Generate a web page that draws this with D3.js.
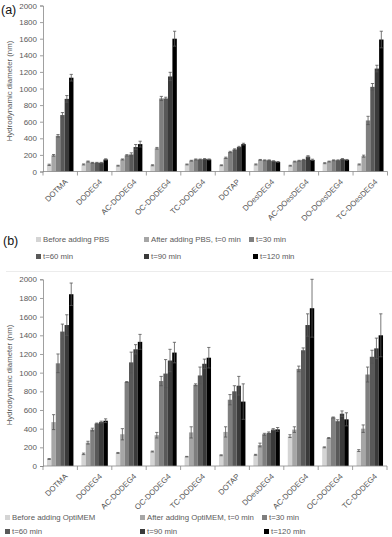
<!DOCTYPE html>
<html><head><meta charset="utf-8">
<script src="https://cdn.jsdelivr.net/npm/d3@7"></script>
<style>body{margin:0;background:#fff}svg{display:block}</style>
</head><body>
<script>
const categoriesA = ["DOTMA","DODEG4","AC-DODEG4","OC-DODEG4","TC-DODEG4","DOTAP","DOesDEG4","AC-DOesDEG4","DO-DOesDEG4","TC-DOesDEG4"];
const categoriesB = ["DOTMA","DODEG4","AC-DODEG4","OC-DODEG4","TC-DODEG4","DOTAP","DOesDEG4","AC-DODEG4","OC-DODEG4","TC-DODEG4"];
const seriesA = ["Before adding PBS","After adding PBS, t=0 min","t=30 min","t=60 min","t=90 min","t=120 min"];
const seriesB = ["Before adding OptiMEM","After adding OptiMEM, t=0 min","t=30 min","t=60 min","t=90 min","t=120 min"];
const colors = ["#d4d4d4","#a6a6a6","#7f7f7f","#595959","#3a3a3a","#000000"];
const yTicks = [0,200,400,600,800,1000,1200,1400,1600,1800,2000];

// Panel (a) values, one array per series (over categoriesA)
const aBefore = [80,85,70,75,85,75,85,70,100,85];
const aT0     = [195,120,145,280,130,165,140,120,120,185];
const aT30    = [430,105,195,880,145,235,135,130,135,615];
const aT60    = [680,105,205,880,145,265,135,140,135,1020];
const aT90    = [875,105,295,1145,150,295,125,180,150,1240];
const aT120   = [1130,145,330,1600,145,330,115,140,140,1590];
const aErrBefore = [8,6,5,6,5,5,6,5,6,6];
const aErrT0     = [10,6,6,10,5,8,5,5,5,12];
const aErrT30    = [15,5,8,25,6,8,5,5,5,50];
const aErrT60    = [30,5,20,15,5,8,5,6,5,40];
const aErrT90    = [40,5,30,50,6,8,5,10,6,40];
const aErrT120   = [40,8,35,90,6,10,5,8,5,100];

// Panel (b) values, one array per series (over categoriesB)
const bBefore = [75,130,140,155,100,115,120,320,200,165];
const bT0     = [470,250,340,330,360,365,225,390,300,400];
const bT30    = [1100,390,900,910,870,710,340,1040,520,980];
const bT60    = [1440,455,1110,990,970,800,355,1240,480,1170];
const bT90    = [1510,470,1250,1130,1095,860,390,1510,560,1260];
const bT120   = [1840,485,1330,1215,1160,690,392,1690,500,1400];
const bErrBefore = [5,8,5,5,3,5,5,15,5,10];
const bErrT0     = [80,15,60,30,60,55,20,30,5,40];
const bErrT30    = [100,15,5,50,10,55,10,30,5,80];
const bErrT60    = [80,5,110,150,90,60,10,25,15,70];
const bErrT90    = [110,10,50,120,50,100,10,120,30,110];
const bErrT120   = [120,20,80,110,110,190,20,310,70,230];

const W = 392, H = 537;
const FONT = "'Liberation Sans', Arial, sans-serif";
const TXT = "#595959";
const FS = 7.8;
const svg = d3.select("body").append("svg").attr("width", W).attr("height", H);

function panel(cfg) {
  const {cats, series, vals, errs, y0, y1, x0, x1, label, legendRows, titleCenter} = cfg;
  const g = svg.append("g");
  const x = d3.scaleBand().domain(cats.map((c,i)=>i)).range([x0, x1]).paddingInner(0).paddingOuter(0);
  const xs = d3.scaleBand().domain(series.map((s,i)=>i)).range([0, x.bandwidth()]).paddingInner(0).paddingOuter(0.9);
  const y = d3.scaleLinear().domain([0, 2000]).range([y0, y1]);

  // y axis
  const ya = g.append("g").attr("transform", `translate(${x0},0)`)
    .call(d3.axisLeft(y).tickValues(yTicks).tickFormat(d3.format("d")).tickSize(3).tickPadding(3));
  ya.select(".domain").attr("stroke", "#888").attr("stroke-width", 0.8);
  ya.selectAll(".tick line").attr("stroke", "#888").attr("stroke-width", 0.8);
  ya.selectAll(".tick text").attr("fill", TXT).attr("font-size", 8).attr("font-family", FONT);

  // bars
  series.forEach((s, si) => {
    g.append("g").selectAll("rect").data(vals[si]).join("rect")
      .attr("x", (d,i) => x(i) + xs(si))
      .attr("width", xs.bandwidth())
      .attr("y", d => y(d))
      .attr("height", d => y(0) - y(d))
      .attr("fill", colors[si]);
  });
  // error bars
  series.forEach((s, si) => {
    const eg = g.append("g").attr("stroke", "#555").attr("stroke-width", 0.8);
    vals[si].forEach((v, i) => {
      const e = errs[si][i];
      const cx = x(i) + xs(si) + xs.bandwidth()/2;
      const cw = 1.6;
      eg.append("line").attr("x1", cx).attr("x2", cx).attr("y1", y(v - e)).attr("y2", y(v + e));
      eg.append("line").attr("x1", cx-cw).attr("x2", cx+cw).attr("y1", y(v + e)).attr("y2", y(v + e));
      eg.append("line").attr("x1", cx-cw).attr("x2", cx+cw).attr("y1", y(v - e)).attr("y2", y(v - e));
    });
  });

  // x axis
  const xa = g.append("g").attr("transform", `translate(0,${y0})`);
  xa.append("line").attr("x1", x0).attr("x2", x1).attr("stroke", "#888").attr("stroke-width", 0.8);
  cats.forEach((c, i) => {
    xa.append("line").attr("x1", x(i)).attr("x2", x(i)).attr("y1", 0).attr("y2", 4).attr("stroke", "#888").attr("stroke-width", 0.8);
  });
  xa.append("line").attr("x1", x1).attr("x2", x1).attr("y1", 0).attr("y2", 4).attr("stroke", "#888").attr("stroke-width", 0.8);
  cats.forEach((c, i) => {
    const cx = x(i) + x.bandwidth()/2 + 4;
    xa.append("text").attr("transform", `translate(${cx},7) rotate(-45)`)
      .attr("text-anchor", "end").attr("dy", "0.7em")
      .attr("fill", TXT).attr("font-size", FS).attr("font-family", FONT).text(c);
  });

  // y title
  g.append("text").attr("transform", `translate(12,${titleCenter}) rotate(-90)`)
    .attr("text-anchor", "middle").attr("fill", TXT).attr("font-size", FS).attr("font-family", FONT)
    .text("Hydrodynamic diameter (nm)");

  // panel label
  svg.append("text").attr("x", label.x).attr("y", label.y).attr("font-size", 12.5)
    .attr("font-family", FONT).attr("fill", "#111").text(label.t);

  // legend
  legendRows.forEach(item => {
    const lg = svg.append("g").attr("transform", `translate(${item.x},${item.y})`);
    lg.append("rect").attr("x", 0).attr("y", -5).attr("width", 5).attr("height", 5).attr("fill", colors[item.si]);
    lg.append("text").attr("x", 7).attr("y", 0).attr("fill", TXT).attr("font-size", FS)
      .attr("font-family", FONT).text(series[item.si]);
  });
}

panel({
  cats: categoriesA, series: seriesA,
  vals: [aBefore, aT0, aT30, aT60, aT90, aT120],
  errs: [aErrBefore, aErrT0, aErrT30, aErrT60, aErrT90, aErrT120],
  y0: 171.5, y1: 5.5, x0: 43, x1: 387.5,
  label: {x: 1, y: 14, t: "(a)"}, titleCenter: 91,
  legendRows: [
    {si:0, x:36, y:242}, {si:1, x:144, y:242}, {si:2, x:249, y:242},
    {si:3, x:36, y:259}, {si:4, x:144, y:259}, {si:5, x:253, y:259}
  ]
});

// faint chart border line for panel (b)
svg.append("line").attr("x1", 6).attr("x2", W).attr("y1", 271.5).attr("y2", 271.5).attr("stroke", "#ececec").attr("stroke-width", 1);

panel({
  cats: categoriesB, series: seriesB,
  vals: [bBefore, bT0, bT30, bT60, bT90, bT120],
  errs: [bErrBefore, bErrT0, bErrT30, bErrT60, bErrT90, bErrT120],
  y0: 466, y1: 279.3, x0: 43, x1: 387,
  label: {x: 3, y: 245, t: "(b)"}, titleCenter: 375,
  legendRows: [
    {si:0, x:5, y:520}, {si:1, x:140, y:520}, {si:2, x:262, y:520},
    {si:3, x:5, y:534}, {si:4, x:140, y:534}, {si:5, x:264, y:534}
  ]
});
</script>
</body></html>
